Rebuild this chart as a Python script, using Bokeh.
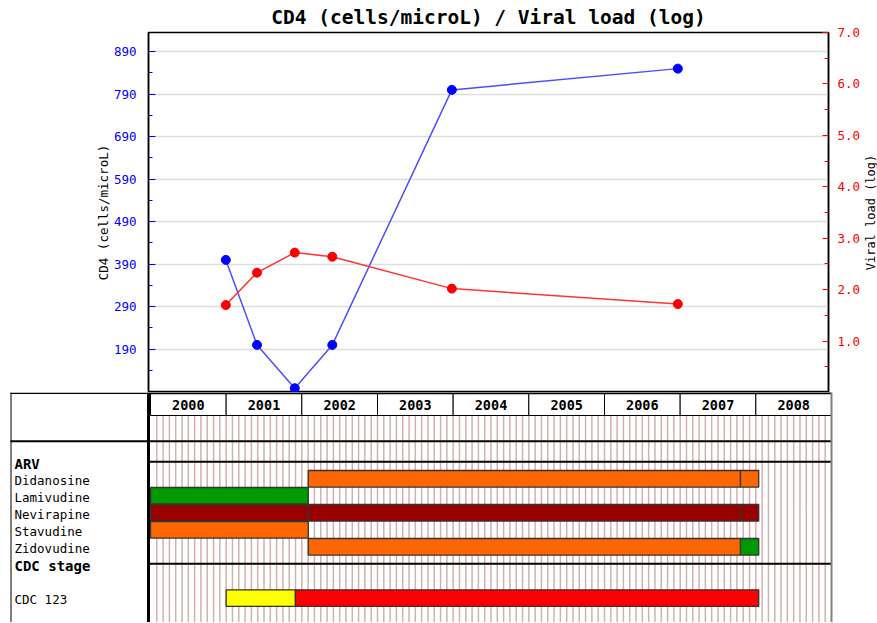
import math
import pandas as pd
from bokeh.plotting import figure
from bokeh.models import Range1d, LinearAxis, FixedTicker, NumeralTickFormatter
from bokeh.layouts import column, row
from bokeh.embed import file_html
from bokeh.resources import INLINE
from bokeh.core.properties import value

MONO = "DejaVu Sans Mono"

# ---------------- data ----------------
lab_dates = ["2001-01-01", "2001-06-01", "2001-12-01", "2002-06-01", "2004-01-01", "2007-01-01"]
cd4_counts = [400, 200, 98, 200, 800, 850]
viral_load_log = [1.70, 2.33, 2.72, 2.64, 2.02, 1.72]

years = [2000, 2001, 2002, 2003, 2004, 2005, 2006, 2007, 2008]
cd4_ticks = [190, 290, 390, 490, 590, 690, 790, 890]
cd4_minor_ticks = [140, 240, 340, 440, 540, 640, 740, 840]
vl_ticks = [1, 2, 3, 4, 5, 6, 7]
vl_minor_ticks = [0.5, 1.5, 2.5, 3.5, 4.5, 5.5, 6.5]

arv_drugs = ["Didanosine", "Lamivudine", "Nevirapine", "Stavudine", "Zidovudine"]
arv_drug = ["Didanosine", "Didanosine", "Lamivudine", "Nevirapine", "Nevirapine",
            "Nevirapine", "Stavudine", "Zidovudine", "Zidovudine"]
arv_start = ["2002-02-01", "2007-10-19", "2000-01-01", "2000-01-01", "2002-02-01",
             "2007-10-19", "2000-01-01", "2002-02-01", "2007-10-19"]
arv_end = ["2007-10-19", "2008-01-15", "2002-02-01", "2002-02-01", "2007-10-19",
           "2008-01-15", "2002-02-01", "2007-10-19", "2008-01-15"]
arv_color = ["#ff6600", "#ff6600", "#009900", "#990000", "#990000",
             "#990000", "#ff6600", "#ff6600", "#009900"]

cdc_stages = ["CDC 123"]
cdc_stage = ["CDC 123", "CDC 123"]
cdc_start = ["2001-01-01", "2001-12-01"]
cdc_end = ["2001-12-01", "2008-01-15"]
cdc_color = ["#ffff00", "#ff0000"]


def frac_year(s):
    d = pd.Timestamp(s)
    a = pd.Timestamp(year=d.year, month=1, day=1)
    b = pd.Timestamp(year=d.year + 1, month=1, day=1)
    return d.year + (d - a) / (b - a)


# ---------------- layout constants (page pixels, page margin is 0) ----------------
W = 877
TOP_W = 863                  # top chart width; a thin strip to its right holds the right-axis title
TOP_H = 392
BOT_H = 230
YR_PX = 681 / 9.0            # pixels per year on the time scale
FRAME_L, FRAME_R = 148, 831  # x of chart frame
FRAME_T = 32
CD4_LO, CD4_HI = 88, 935


def px_to_year(px):
    return 2000 + (px - 150) / YR_PX


x_lab = [frac_year(d) for d in lab_dates]

# ---------------- top chart ----------------
top = figure(width=TOP_W, height=TOP_H, title="CD4 (cells/microL) / Viral load (log)",
             x_range=Range1d(px_to_year(FRAME_L), px_to_year(FRAME_R)),
             y_range=Range1d(CD4_LO, CD4_HI),
             output_backend="svg", toolbar_location=None, x_axis_location=None,
             min_border_left=FRAME_L, min_border_right=TOP_W - FRAME_R,
             min_border_top=FRAME_T, min_border_bottom=0)
top.frame_align = False
top.title.align = "center"
top.title.text_font = MONO
top.title.text_font_size = "19.5px"
top.title.text_font_style = "bold"
top.title.text_color = "black"
top.title.standoff = 7
top.extra_y_ranges = {"vl": Range1d(0, 7)}
top.outline_line_color = "black"
top.outline_line_width = 1.5
top.background_fill_color = "white"
top.border_fill_color = "white"
top.xgrid.visible = False

cd4_ticker = FixedTicker(ticks=cd4_ticks, minor_ticks=cd4_minor_ticks)
ya = top.yaxis[0]
ya.ticker = cd4_ticker
top.ygrid.ticker = cd4_ticker
top.ygrid.grid_line_color = "#dddddd"
top.ygrid.grid_line_width = 1.5
ya.major_tick_in = 7
ya.major_tick_out = 0
ya.minor_tick_in = 4
ya.minor_tick_out = 0
ya.major_tick_line_color = "#0000ff"
ya.minor_tick_line_color = "#0000ff"
ya.major_label_text_color = "#0000ff"
ya.major_label_text_font = MONO
ya.major_label_text_font_size = "12.5px"
ya.major_label_standoff = 12
ya.axis_line_color = "black"
ya.axis_line_width = 1.5
ya.axis_label = "CD4 (cells/microL)"
ya.axis_label_text_font = MONO
ya.axis_label_text_font_size = "12.5px"
ya.axis_label_text_font_style = "normal"
ya.axis_label_text_color = "black"
ya.axis_label_standoff = 0

ra = LinearAxis(y_range_name="vl",
                ticker=FixedTicker(ticks=vl_ticks, minor_ticks=vl_minor_ticks),
                formatter=NumeralTickFormatter(format="0.0"))
ra.major_tick_in = 6
ra.major_tick_out = 0
ra.minor_tick_in = 4
ra.minor_tick_out = 0
ra.major_tick_line_color = "#ff0000"
ra.minor_tick_line_color = "#ff0000"
ra.major_label_text_color = "#ff0000"
ra.major_label_text_font = MONO
ra.major_label_text_font_size = "12.5px"
ra.major_label_standoff = 9
ra.axis_line_color = "black"
ra.axis_line_width = 1.5
top.add_layout(ra, "right")

top.line(x_lab, cd4_counts, line_color="#4d4dff", line_width=1.5)
top.scatter(x_lab, cd4_counts, size=9, fill_color="#0000ff", line_color="#0000ff")
top.line(x_lab, viral_load_log, y_range_name="vl", line_color="#ff3333", line_width=1.5)
top.scatter(x_lab, viral_load_log, y_range_name="vl", size=9,
            fill_color="#ff0000", line_color="#ff0000")

# ---------------- right-axis title strip ----------------
STRIP_W = W - TOP_W
strip = figure(width=STRIP_W, height=TOP_H, title=None,
               x_range=Range1d(0, STRIP_W), y_range=Range1d(TOP_H, 0),
               output_backend="svg", toolbar_location=None,
               x_axis_location=None, y_axis_location=None,
               min_border_left=0, min_border_right=0, min_border_top=0, min_border_bottom=0)
strip.frame_align = False
strip.outline_line_color = None
strip.xgrid.visible = False
strip.ygrid.visible = False
strip.background_fill_color = "white"
strip.border_fill_color = "white"
strip.text(x=[STRIP_W / 2], y=[(FRAME_T + TOP_H) / 2], text=["Viral load (log)"],
           angle=math.pi / 2, text_font=value(MONO), text_font_size="12px",
           text_align="center", text_baseline="middle", text_color="black")

# ---------------- bottom timeline ----------------
# y coordinates of the timeline are pixel offsets below the top chart
bot = figure(width=W, height=BOT_H, title=None,
             x_range=Range1d(px_to_year(0), px_to_year(W)),
             y_range=Range1d(BOT_H, 0),
             output_backend="svg", toolbar_location=None,
             x_axis_location=None, y_axis_location=None,
             min_border_left=0, min_border_right=0, min_border_top=0, min_border_bottom=0)
bot.frame_align = False
bot.outline_line_color = None
bot.xgrid.visible = False
bot.ygrid.visible = False
bot.background_fill_color = "white"
bot.border_fill_color = "white"

HDR_T, HDR_B = 0.7, 23
months = [y + m / 12 for y in years for m in range(12)][1:]
bot.segment(x0=months, x1=months, y0=[HDR_B] * len(months), y1=[BOT_H] * len(months),
            line_color="#d2b0b0", line_width=1.5)

bot.quad(left=years, right=[y + 1 for y in years], top=[HDR_T] * len(years),
         bottom=[HDR_B] * len(years), fill_color="white", line_color="black", line_width=1)
bot.text(x=[y + 0.5 for y in years], y=[12.3] * len(years), text=[str(y) for y in years],
         text_font=value(MONO), text_font_size="13.5px", text_font_style="bold",
         text_align="center", text_baseline="middle", text_color="black")

ROW0, ROW_H = 78, 17
arv_row = {d: i for i, d in enumerate(arv_drugs)}
arv_top = [ROW0 + ROW_H * arv_row[d] for d in arv_drug]
bot.quad(left=[frac_year(s) for s in arv_start], right=[frac_year(s) for s in arv_end],
         top=arv_top, bottom=[t + ROW_H - 0.4 for t in arv_top],
         fill_color=arv_color, line_color="#333333", line_width=1.3)

CDC0 = 197.3
cdc_row = {s: i for i, s in enumerate(cdc_stages)}
cdc_top = [CDC0 + ROW_H * cdc_row[s] for s in cdc_stage]
bot.quad(left=[frac_year(s) for s in cdc_start], right=[frac_year(s) for s in cdc_end],
         top=cdc_top, bottom=[t + ROW_H - 0.4 for t in cdc_top],
         fill_color=cdc_color, line_color="#333333", line_width=1.3)

seg = [
    (10, 0.7, FRAME_L, 0.7, 1.5, "black"),
    (FRAME_L, 0.8, FRAME_R, 0.8, 2, "black"),
    (10.5, 0, 10.5, BOT_H, 1, "black"),
    (FRAME_L, 0, FRAME_L, BOT_H, 3, "black"),
    (10, 48.7, FRAME_R, 48.7, 2, "black"),
    (FRAME_L, 69.3, FRAME_R, 69.3, 2, "black"),
    (FRAME_L, 171.3, FRAME_R, 171.3, 2, "black"),
    (FRAME_R, 0, FRAME_R, BOT_H, 2, "#808080"),
]
for x0, y0, x1, y1, w, c in seg:
    bot.segment(x0=[px_to_year(x0)], y0=[y0], x1=[px_to_year(x1)], y1=[y1],
                line_color=c, line_width=w)

LX = px_to_year(14)
bot.text(x=[LX, LX], y=[71.3, 173], text=["ARV", "CDC stage"],
         text_font=value(MONO), text_font_size="14px", text_font_style="bold",
         text_align="left", text_baseline="middle", text_color="black")
bot.text(x=[LX] * len(arv_drugs), y=[ROW0 + ROW_H * i + 10 for i in range(len(arv_drugs))],
         text=arv_drugs, text_font=value(MONO), text_font_size="12.5px",
         text_align="left", text_baseline="middle", text_color="black")
bot.text(x=[LX] * len(cdc_stages), y=[CDC0 + ROW_H * i + 10 for i in range(len(cdc_stages))],
         text=cdc_stages, text_font=value(MONO), text_font_size="12.5px",
         text_align="left", text_baseline="middle", text_color="black")

layout = column(row(top, strip, spacing=0), bot, spacing=0)
open("out.html", "w").write(file_html(layout, INLINE))
